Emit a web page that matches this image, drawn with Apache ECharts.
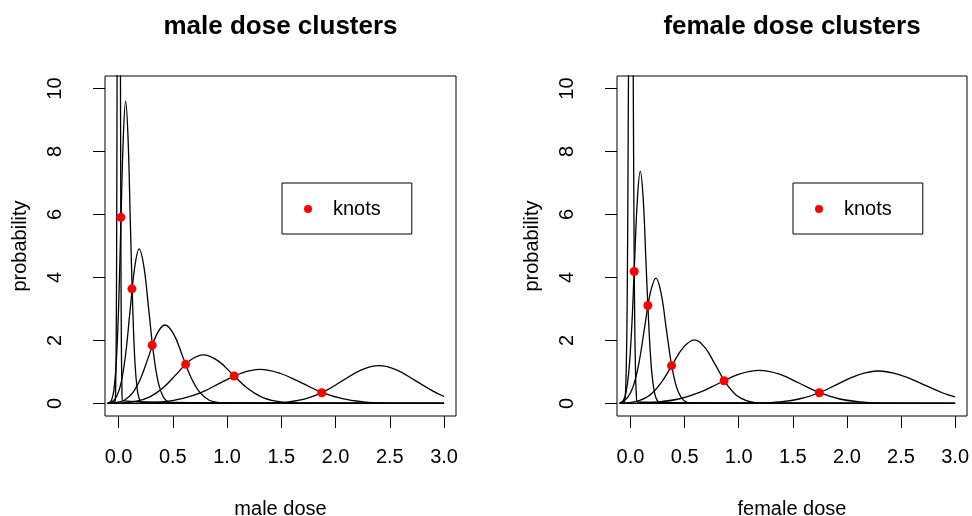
<!DOCTYPE html>
<html>
<head>
<meta charset="utf-8">
<script src="https://cdn.jsdelivr.net/npm/echarts@6/dist/echarts.min.js"></script>
<style>
  html, body { margin: 0; padding: 0; background: #fff; }
  #chart { width: 972px; height: 516px; }
</style>
</head>
<body>
<div id="chart"></div>
<script>
// Tick positions shared by both panels
const xTicks = [0, 0.5, 1, 1.5, 2, 2.5, 3];
const yTicks = [0, 2, 4, 6, 8, 10];

// Male dose cluster densities: [dose, probability]
const maleCluster1 = [[-0.1,0],[-0.031,0.09],[-0.027,0.47],[-0.022,1.84],[-0.017,5.7],[-0.012,13.6],[-0.008,25.5],[-0.003,37.1],[0.002,42],[0.007,37.1],[0.012,25.5],[0.016,13.6],[0.021,5.7],[0.026,1.84],[0.031,0.47],[0.035,0.09],[3.0,0]];
const maleCluster2 = [[-0.1,0],[-0.086,0.02],[-0.064,0.11],[-0.043,0.42],[-0.021,1.3],[0.001,3.12],[0.022,5.82],[0.044,8.47],[0.065,9.6],[0.087,8.47],[0.108,5.82],[0.13,3.12],[0.151,1.3],[0.173,0.42],[0.194,0.11],[0.216,0.02],[3.0,0]];
const maleCluster3 = [[-0.1,0.01],[-0.059,0.05],[-0.018,0.22],[0.024,0.66],[0.066,1.59],[0.107,2.98],[0.149,4.33],[0.19,4.91],[0.234,4.33],[0.278,2.98],[0.322,1.59],[0.366,0.66],[0.41,0.22],[0.454,0.05],[0.498,0.01],[3.0,0]];
const maleCluster4 = [[-0.1,0.005],[-0.017,0.03],[0.057,0.11],[0.131,0.34],[0.205,0.81],[0.279,1.51],[0.353,2.2],[0.427,2.49],[0.508,2.2],[0.589,1.51],[0.67,0.81],[0.751,0.34],[0.832,0.11],[0.913,0.03],[0.994,0.01],[3.0,0]];
const maleCluster5 = [[-0.1,0],[0.042,0.02],[0.165,0.07],[0.288,0.21],[0.411,0.5],[0.534,0.93],[0.657,1.36],[0.78,1.54],[0.914,1.36],[1.048,0.93],[1.182,0.5],[1.316,0.21],[1.45,0.07],[1.584,0.02],[1.718,0.0],[3.0,0]];
const maleCluster6 = [[-0.1,0],[0.226,0.01],[0.406,0.05],[0.585,0.15],[0.765,0.35],[0.944,0.66],[1.124,0.95],[1.303,1.08],[1.493,0.95],[1.683,0.66],[1.873,0.35],[2.063,0.15],[2.253,0.05],[2.443,0.01],[2.633,0.0],[3.0,0]];
const maleCluster7 = [[-0.1,0],[1.238,0.0],[1.404,0.01],[1.57,0.05],[1.736,0.16],[1.902,0.39],[2.068,0.73],[2.234,1.06],[2.4,1.2],[2.566,1.06],[2.732,0.73],[2.898,0.39],[3.0,0.22]];
const maleKnots = [[0.021,5.91],[0.123,3.64],[0.31,1.85],[0.618,1.24],[1.065,0.87],[1.873,0.34]];

// Female dose cluster densities: [dose, probability]
const femaleCluster1 = [[-0.1,0],[-0.057,0.05],[-0.048,0.26],[-0.04,1.03],[-0.031,3.18],[-0.023,7.63],[-0.014,14.25],[-0.006,20.74],[0.003,23.5],[0.012,20.74],[0.02,14.25],[0.029,7.63],[0.037,3.18],[0.046,1.03],[0.054,0.26],[0.063,0.05],[3.0,0]];
const femaleCluster2 = [[-0.1,0.01],[-0.069,0.08],[-0.043,0.32],[-0.016,1.0],[0.011,2.4],[0.037,4.48],[0.064,6.51],[0.09,7.38],[0.117,6.51],[0.143,4.48],[0.17,2.4],[0.196,1.0],[0.223,0.32],[0.249,0.08],[0.276,0.02],[3.0,0]];
const femaleCluster3 = [[-0.1,0.02],[-0.08,0.04],[-0.028,0.18],[0.025,0.54],[0.078,1.29],[0.13,2.41],[0.183,3.51],[0.235,3.98],[0.282,3.51],[0.329,2.41],[0.376,1.29],[0.423,0.54],[0.47,0.18],[0.517,0.04],[0.564,0.01],[3.0,0]];
const femaleCluster4 = [[-0.1,0.01],[-0.024,0.02],[0.079,0.09],[0.181,0.27],[0.284,0.66],[0.386,1.23],[0.489,1.78],[0.591,2.02],[0.687,1.78],[0.783,1.23],[0.879,0.66],[0.975,0.27],[1.071,0.09],[1.167,0.02],[1.263,0.0],[3.0,0]];
const femaleCluster5 = [[-0.1,0],[0.074,0.01],[0.26,0.05],[0.446,0.14],[0.632,0.34],[0.818,0.64],[1.004,0.93],[1.19,1.05],[1.376,0.93],[1.562,0.64],[1.748,0.34],[1.934,0.14],[2.12,0.05],[2.306,0.01],[2.492,0.0],[3.0,0]];
const femaleCluster6 = [[-0.1,0],[1.009,0.0],[1.192,0.01],[1.375,0.05],[1.558,0.14],[1.741,0.33],[1.924,0.63],[2.107,0.91],[2.29,1.03],[2.489,0.91],[2.688,0.63],[2.887,0.33],[3.0,0.21]];
const femaleKnots = [[0.034,4.19],[0.16,3.11],[0.379,1.2],[0.865,0.72],[1.745,0.34]];

const maleClusters = [maleCluster1, maleCluster2, maleCluster3, maleCluster4, maleCluster5, maleCluster6, maleCluster7];
const femaleClusters = [femaleCluster1, femaleCluster2, femaleCluster3, femaleCluster4, femaleCluster5, femaleCluster6];

const FONT = "'Liberation Sans', Arial, Helvetica, sans-serif";
const INK = '#000';

const panels = [
  { title: 'male dose clusters', xName: 'male dose', curves: maleClusters, knots: maleKnots, left: 105, width: 351, legendLeft: 282 },
  { title: 'female dose clusters', xName: 'female dose', curves: femaleClusters, knots: femaleKnots, left: 617, width: 350, legendLeft: 793 }
];

const grid = [], xAxis = [], yAxis = [], series = [], title = [], legend = [];

panels.forEach((p, i) => {
  grid.push({
    left: p.left, top: 76, width: p.width, height: 340,
    outerBoundsMode: 'none', containLabel: false,
    show: true, borderColor: INK, borderWidth: 1, backgroundColor: 'transparent'
  });
  xAxis.push({
    gridIndex: i, type: 'value', min: -0.125, max: 3.11,
    axisLine: { show: false, onZero: false },
    splitLine: { show: false },
    axisTick: { show: true, length: 12, customValues: xTicks, lineStyle: { color: INK, width: 1 } },
    axisLabel: { customValues: xTicks, formatter: v => v.toFixed(1), margin: 31, fontSize: 20, color: INK, fontFamily: FONT },
    name: p.xName, nameLocation: 'middle', nameGap: 83,
    nameTextStyle: { fontSize: 20, color: INK, fontFamily: FONT }
  });
  yAxis.push({
    gridIndex: i, type: 'value', min: -0.4, max: 10.4,
    axisLine: { show: false, onZero: false },
    splitLine: { show: false },
    axisTick: { show: true, length: 12, customValues: yTicks, lineStyle: { color: INK, width: 1 } },
    axisLabel: { customValues: yTicks, rotate: 90, margin: 40, fontSize: 20, color: INK, fontFamily: FONT },
    name: 'probability', nameLocation: 'middle', nameGap: 75,
    nameTextStyle: { fontSize: 20, color: INK, fontFamily: FONT }
  });
  p.curves.forEach(curve => {
    series.push({
      type: 'line', xAxisIndex: i, yAxisIndex: i, data: curve,
      symbol: 'none', showSymbol: false, smooth: 0.4,
      lineStyle: { color: INK, width: 1.3 }, clip: true, silent: true, z: 2
    });
  });
  series.push({
    type: 'scatter', name: 'knots', xAxisIndex: i, yAxisIndex: i, data: p.knots,
    symbol: 'circle', symbolSize: 9, itemStyle: { color: '#ff0000', opacity: 1 }, z: 5
  });
  title.push({
    text: p.title, left: p.left + p.width / 2, top: 14, padding: 0,
    textAlign: 'center', textVerticalAlign: 'top',
    textStyle: { fontSize: 26, fontWeight: 'bold', color: INK, fontFamily: FONT }
  });
  legend.push({
    data: [{ name: 'knots', icon: 'circle' }],
    left: p.legendLeft, top: 183, orient: 'horizontal',
    padding: [16, 31, 15, 22], itemWidth: 40, itemHeight: 8,
    borderColor: INK, borderWidth: 1, borderRadius: 0, backgroundColor: '#fff',
    selectedMode: false,
    textStyle: { fontSize: 20, color: INK, fontFamily: FONT }
  });
});

const chart = echarts.init(document.getElementById('chart'), null, { renderer: 'canvas' });
chart.setOption({
  animation: false,
  backgroundColor: '#fff',
  title, legend, grid, xAxis, yAxis, series
});
</script>
</body>
</html>
